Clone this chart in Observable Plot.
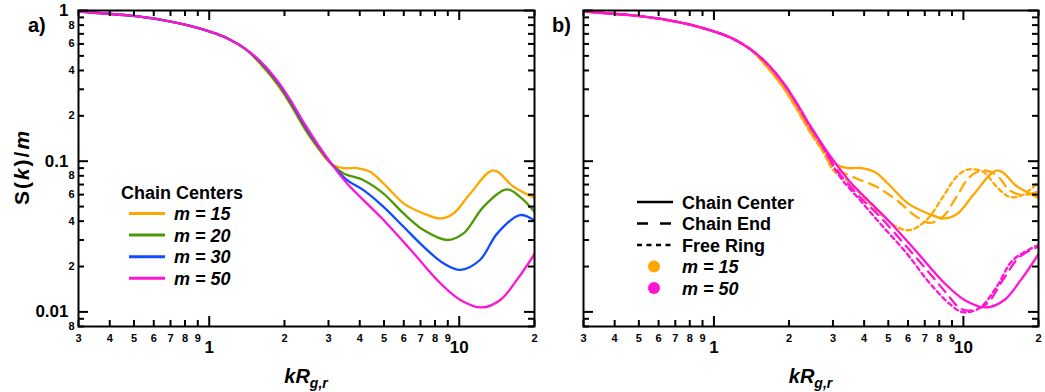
<!DOCTYPE html>
<html><head><meta charset="utf-8">
<script src="https://cdn.jsdelivr.net/npm/d3@7"></script>
<script src="https://cdn.jsdelivr.net/npm/@observablehq/plot@0.6"></script>
<style>
body{margin:0;background:#fff;}
#chart{display:flex;width:1045px;height:392px;}
#chart svg{flex:none;}
</style></head><body><div id="chart"></div>
<script>
// ---------- tick values ----------
const xMinorTicks = [0.3,0.4,0.5,0.6,0.7,0.8,0.9,2,3,4,5,6,7,8,9,20];
const xMajorTicks = [1,10];
const yMinorTicks = [0.008,0.009,0.02,0.03,0.04,0.05,0.06,0.07,0.08,0.09,0.2,0.3,0.4,0.5,0.6,0.7,0.8,0.9];
const yMajorTicks = [0.01,0.1,1];
const yMinorLabels = [0.008,0.02,0.04,0.06,0.08,0.2,0.4,0.6,0.8];

// ---------- colours ----------
const colors = {m15:"#ffa700", m20:"#4d9a06", m30:"#0d4dff", m50:"#ff14d4"};

// ---------- data: S(k)/m vs kR_g,r ----------
const sharedHigh = [[0.3,0.985],[0.474,0.927],[0.644,0.868],[0.824,0.796],[1.02,0.718],[1.19,0.650],[1.39,0.558]];

const center15 = [...sharedHigh,[1.62,0.432],[1.89,0.315],[2.13,0.232],[2.41,0.163],[2.73,0.121],[3.1,0.095],[3.45,0.090],[3.9,0.090],[4.4,0.085],[4.98,0.0711],[5.99,0.0525],[7.2,0.045],[8.4,0.0417],[9.49,0.045],[11.07,0.061],[13.7,0.087],[16.5,0.0676],[20,0.057]];
const center20 = [...sharedHigh,[1.62,0.438],[1.89,0.321],[2.13,0.236],[2.41,0.166],[2.73,0.123],[3.1,0.095],[3.45,0.083],[4.14,0.0748],[4.98,0.061],[5.99,0.045],[7.2,0.0349],[8.93,0.030],[10.4,0.0332],[12.5,0.0498],[15.5,0.065],[17.5,0.058],[20,0.0462]];
const center30 = [...sharedHigh,[1.62,0.447],[1.89,0.330],[2.13,0.245],[2.41,0.172],[2.73,0.126],[3.1,0.095],[3.56,0.0748],[4.14,0.0643],[4.98,0.0498],[5.99,0.0367],[7.2,0.0271],[8.65,0.021],[10.1,0.019],[12.1,0.0221],[14.2,0.0332],[17.5,0.0439],[20,0.0403]];
const center50 = [...sharedHigh,[1.62,0.452],[1.89,0.335],[2.13,0.249],[2.41,0.176],[2.73,0.128],[3.1,0.095],[3.56,0.0711],[4.98,0.0407],[6.57,0.0245],[8.4,0.0155],[10.1,0.012],[12.3,0.0107],[14.6,0.012],[17,0.0163],[20,0.0242]];

const end15 = [...sharedHigh,[1.62,0.430],[1.89,0.312],[2.13,0.229],[2.41,0.161],[2.73,0.119],[3.01,0.0917],[3.73,0.0768],[4.49,0.0676],[5.4,0.0552],[6.49,0.0428],[7.33,0.039],[8.28,0.0428],[9.38,0.058],[10.6,0.0787],[12.0,0.087],[13.6,0.0807],[15.3,0.0643],[17.3,0.0596],[20,0.063]];
const ring15 = [...sharedHigh,[1.62,0.428],[1.89,0.310],[2.13,0.227],[2.41,0.159],[2.73,0.116],[3.01,0.087],[3.4,0.0748],[3.97,0.058],[4.63,0.045],[5.4,0.0367],[6.1,0.0349],[7.11,0.0407],[8.28,0.058],[9.38,0.0787],[10.4,0.088],[12.0,0.085],[13.6,0.0676],[15.3,0.058],[17.3,0.0596],[20,0.073]];
const end50 = [...sharedHigh,[1.62,0.450],[1.89,0.333],[2.13,0.247],[2.41,0.174],[2.73,0.126],[3.1,0.088],[3.73,0.061],[4.63,0.0428],[5.92,0.0271],[7.33,0.018],[8.55,0.0133],[9.67,0.0106],[10.6,0.0102],[12.4,0.0113],[14.4,0.0163],[16.8,0.0232],[20,0.0271]];
const ring50 = [...sharedHigh,[1.62,0.448],[1.89,0.331],[2.13,0.245],[2.41,0.172],[2.73,0.124],[3.2,0.0787],[3.85,0.0552],[4.63,0.0387],[5.92,0.0245],[7.33,0.0155],[8.81,0.0113],[9.96,0.00995],[11.6,0.0106],[13.6,0.0147],[15.8,0.0221],[20,0.0278]];

const legendA = [["m = 15","m15"],["m = 20","m20"],["m = 30","m30"],["m = 50","m50"]];
const legendBStyles = [["Chain Center",null],["Chain End","11,12"],["Free Ring","5,4.5"]];
const legendBColors = [["m = 15","m15"],["m = 50","m50"]];

const DASH = "10,7";
const DOT = "4.5,3.5";
const FONT = "'Liberation Sans', Arial, Helvetica, sans-serif";
const HEIGHT = 392, MT = 10, MB = 66;

const panelA = [
  {data:center15, c:"m15", dash:null},
  {data:center20, c:"m20", dash:null},
  {data:center30, c:"m30", dash:null},
  {data:center50, c:"m50", dash:null}
];
const panelB = [
  {data:center15, c:"m15", dash:null},
  {data:end15, c:"m15", dash:DASH},
  {data:ring15, c:"m15", dash:DOT},
  {data:center50, c:"m50", dash:null},
  {data:end50, c:"m50", dash:DASH},
  {data:ring50, c:"m50", dash:DOT}
];

const minorFmt = d => String(Math.round(d / 10 ** Math.floor(Math.log10(d) + 1e-9)));
const majorFmt = d => String(d);

// inward ticks on all four frame sides: rules inset from the opposite side
function frameTicks(values, axis, len, innerW, innerH) {
  const st = {stroke: "black", strokeWidth: 2};
  if (axis === "x") return [
    Plot.ruleX(values, {x: d => d, insetTop: innerH - len, ...st}),
    Plot.ruleX(values, {x: d => d, insetBottom: innerH - len, ...st})
  ];
  return [
    Plot.ruleY(values, {y: d => d, insetRight: innerW - len, ...st}),
    Plot.ruleY(values, {y: d => d, insetLeft: innerW - len, ...st})
  ];
}

function makePanel({width, marginLeft, marginRight, series, yLabels}) {
  const innerW = width - marginLeft - marginRight;
  const innerH = HEIGHT - MT - MB;
  const marks = [];
  for (const s of series) {
    marks.push(Plot.line(s.data, {x: d => d[0], y: d => d[1], stroke: colors[s.c], strokeWidth: 2.3,
      strokeDasharray: s.dash || undefined, curve: "catmull-rom", clip: true}));
  }
  marks.push(...frameTicks(xMinorTicks, "x", 6, innerW, innerH));
  marks.push(...frameTicks(xMajorTicks, "x", 10, innerW, innerH));
  marks.push(...frameTicks(yMinorTicks, "y", 6, innerW, innerH));
  marks.push(...frameTicks(yMajorTicks, "y", 10, innerW, innerH));
  const txt = {fill: "black", fontWeight: "bold"};
  marks.push(Plot.text(xMinorTicks, {x: d => d, frameAnchor: "bottom", lineAnchor: "top", dy: 8, text: minorFmt, fontSize: 11, ...txt}));
  marks.push(Plot.text(xMajorTicks, {x: d => d, frameAnchor: "bottom", lineAnchor: "top", dy: 14, text: majorFmt, fontSize: 17, ...txt}));
  if (yLabels) {
    marks.push(Plot.text(yMinorLabels, {y: d => d, frameAnchor: "left", textAnchor: "end", dx: -4, text: minorFmt, fontSize: 11, ...txt}));
    marks.push(Plot.text(yMajorTicks, {y: d => d, frameAnchor: "left", textAnchor: "end", dx: -10, text: majorFmt, fontSize: 17, ...txt}));
  }
  marks.push(Plot.frame({stroke: "black", strokeWidth: 2}));
  return Plot.plot({
    width, height: HEIGHT, marginLeft, marginRight, marginTop: MT, marginBottom: MB,
    style: `font-family:${FONT};background:white;overflow:visible;`,
    x: {type: "log", domain: [0.3, 20], axis: null},
    y: {type: "log", domain: [0.008, 1], axis: null},
    marks
  });
}

function addText(g, x, y, size, str, italic) {
  return g.append("text").attr("x", x).attr("y", y).attr("text-anchor", "start")
    .attr("font-family", FONT).attr("font-size", size).attr("font-weight", "bold")
    .attr("font-style", italic ? "italic" : "normal").attr("fill", "black").text(str);
}

function addXTitle(svg, cx) {
  const t = d3.select(svg).append("text").attr("x", cx).attr("y", 383)
    .attr("text-anchor", "middle").attr("font-family", FONT).attr("font-weight", "bold").attr("font-style", "italic").attr("fill", "black");
  t.append("tspan").attr("font-size", 20).text("kR");
  t.append("tspan").attr("font-size", 14).attr("dy", 5).text("g,r");
}

const chart = document.getElementById("chart");

// ---- panel a ----
const svgA = makePanel({width: 540, marginLeft: 78, marginRight: 6, series: panelA, yLabels: true});
chart.appendChild(svgA);
{
  const g = d3.select(svgA);
  addText(g, 28, 32, 20, "a)", false);
  const yt = g.append("text").attr("transform", "translate(29,167) rotate(-90)").attr("text-anchor", "middle")
    .attr("font-family", FONT).attr("font-size", 21).attr("font-weight", "bold").attr("letter-spacing", 2).attr("fill", "black");
  yt.append("tspan").text("S(");
  yt.append("tspan").attr("font-style", "italic").text("k");
  yt.append("tspan").text(")/");
  yt.append("tspan").attr("font-style", "italic").text("m");
  addXTitle(svgA, 306);
  addText(g, 121, 199, 18, "Chain Centers", false);
  legendA.forEach(([label, c], i) => {
    const y = 213.5 + i * 21.6;
    g.append("line").attr("x1", 129).attr("x2", 165).attr("y1", y).attr("y2", y).attr("stroke", colors[c]).attr("stroke-width", 3);
    addText(g, 174, y + 6.5, 18, label, true);
  });
}

// ---- panel b ----
const svgB = makePanel({width: 505, marginLeft: 43, marginRight: 7, series: panelB, yLabels: false});
chart.appendChild(svgB);
{
  const g = d3.select(svgB);
  addText(g, 12, 32, 20, "b)", false);
  addXTitle(svgB, 270.5);
  const rows = [202, 223.5, 245, 266.5, 288];
  legendBStyles.forEach(([label, dash], i) => {
    const y = rows[i];
    const l = g.append("line").attr("x1", 97).attr("x2", 133).attr("y1", y).attr("y2", y).attr("stroke", "black").attr("stroke-width", 2.5);
    if (dash) l.attr("stroke-dasharray", dash);
    addText(g, 142, y + 6.5, 18, label, false);
  });
  legendBColors.forEach(([label, c], i) => {
    const y = rows[3 + i];
    g.append("circle").attr("cx", 114).attr("cy", y).attr("r", 6).attr("fill", colors[c]);
    addText(g, 142, y + 6.5, 18, label, true);
  });
}
</script></body></html>
